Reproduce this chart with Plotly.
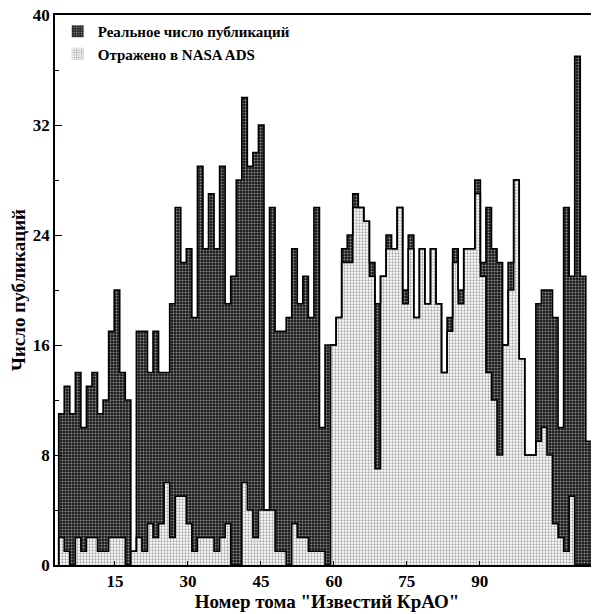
import plotly.graph_objects as go

# Bars in order (one per bin)
real_counts = [11, 13, 11, 14, 10, 13, 14, 11, 12, 17, 20, 14, 12, 1, 17, 17, 14, 17, 14, 14,
               19, 26, 22, 23, 18, 29, 23, 27, 23, 29, 19, 21, 28, 34, 29, 30, 32, 4, 26, 17,
               17, 18, 23, 19, 21, 18, 26, 10, 16, 16, 18, 23, 24, 27, 26, 25, 22, 19, 21, 24,
               23, 26, 20, 24, 18, 23, 19, 23, 19, 14, 18, 23, 20, 23, 23, 28, 22, 26, 23, 22,
               16, 22, 28, 15, 8, 8, 19, 20, 20, 18, 10, 26, 21, 37, 21, 9, 0, 17]
ads_counts = [2, 1, 0, 2, 1, 2, 2, 1, 1, 2, 2, 2, 0, 1, 2, 1, 3, 2, 3, 6,
              2, 5, 5, 3, 1, 2, 2, 2, 1, 2, 3, 0, 0, 6, 4, 2, 4, 4, 4, 1,
              1, 0, 3, 2, 2, 1, 1, 1, 0, 16, 18, 22, 22, 26, 26, 25, 21, 7, 21, 23,
              23, 26, 19, 23, 18, 23, 19, 23, 19, 14, 17, 22, 19, 23, 23, 27, 21, 14, 12, 8,
              16, 20, 28, 15, 8, 8, 9, 10, 8, 3, 2, 1, 5, 0, 0, 0, 0, 16]
x_tick_labels = [15, 30, 45, 60, 75, 90]
y_tick_labels = [0, 8, 16, 24, 32, 40]

# bin geometry (volume units)
first_center = 4.0
bin_width = 1.1406
n = len(real_counts)
centers = [first_center + i * bin_width for i in range(n)]
left_edges = [c - bin_width / 2 for c in centers]

FONT = "Liberation Serif"

fig = go.Figure()

def add_series(vals, name, bg, fg, solidity):
    fig.add_trace(go.Bar(
        x=centers, y=vals, width=bin_width, name=name,
        marker=dict(color=bg, line=dict(width=0),
                    pattern=dict(shape=".", fgcolor=fg, bgcolor=bg, size=3, solidity=solidity)),
        showlegend=True,
    ))
    # step outline
    xs = [left_edges[0]] + left_edges + [left_edges[-1] + bin_width]
    ys = [0] + list(vals) + [vals[-1]]
    fig.add_trace(go.Scatter(x=xs, y=ys, mode="lines", line=dict(color="black", width=1.6, shape="hv"),
                             showlegend=False, hoverinfo="skip"))

add_series(real_counts, "Реальное число публикаций", "#1a1a1a", "#ffffff", 0.35)
add_series(ads_counts, "Отражено в NASA ADS", "#ffffff", "#555555", 0.45)

# the page body adds an 8px offset, so the figure is sized/margined to compensate
fig.update_layout(
    width=591, height=606,
    margin=dict(l=47, r=0, t=7, b=49, autoexpand=False),
    paper_bgcolor="white", plot_bgcolor="white",
    barmode="overlay", bargap=0,
    font=dict(family=FONT, color="black", size=15),
    legend=dict(x=0.005, y=1.0, xanchor="left", yanchor="top",
                font=dict(family=FONT, size=15, color="black", weight="bold"),
                bgcolor="rgba(0,0,0,0)", tracegroupgap=2, itemwidth=30),
    showlegend=True,
)
fig.update_xaxes(
    range=[2.67, 114.5], tickvals=x_tick_labels, ticktext=[str(t) for t in x_tick_labels],
    ticks="inside", ticklen=4, tickcolor="black", showgrid=False, zeroline=False,
    showline=True, linecolor="black", linewidth=1.5, mirror=True, automargin=False,
    tickfont=dict(family=FONT, size=17, weight="bold"),
    title=dict(text='Номер тома "Известий КрАО"', font=dict(family=FONT, size=19, weight="bold"), standoff=0),
)
fig.update_yaxes(
    range=[0, 40], tickvals=y_tick_labels, ticktext=[str(t) for t in y_tick_labels],
    ticks="inside", ticklen=7, tickcolor="black", showgrid=False, zeroline=False,
    showline=True, linecolor="black", linewidth=1.5, mirror=False, automargin=False,
    ticklabeloverflow="allow",
    minor=dict(dtick=4, ticks="inside", ticklen=4, tickcolor="black"),
    tickfont=dict(family=FONT, size=17, weight="bold"),
    title=dict(text="Число публикаций", font=dict(family=FONT, size=19, weight="bold"), standoff=6),
)

fig.write_html("out.html")
